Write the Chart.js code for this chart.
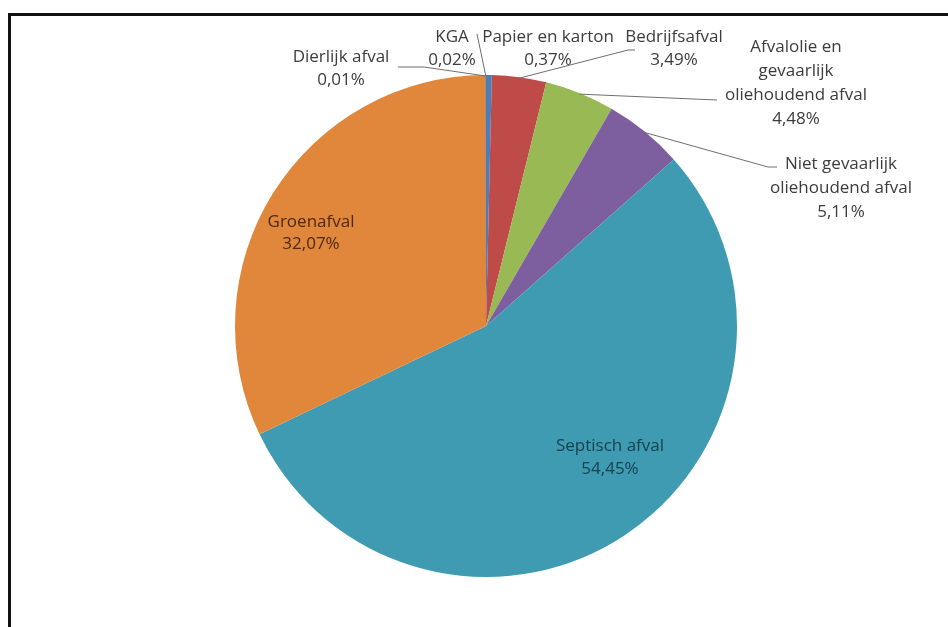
<!DOCTYPE html>
<html>
<head>
<meta charset="utf-8">
<title>Afvalstromen</title>
<script src="https://cdn.jsdelivr.net/npm/chart.js@4.4.0/dist/chart.umd.min.js"></script>
<style>
  html, body { margin: 0; padding: 0; background: #fff; overflow: hidden; }
  .frame {
    position: absolute; left: 8px; top: 13px; width: 980px; height: 660px;
    border-top: 3px solid #111; border-left: 3px solid #111;
  }
  #wasteChart { position: absolute; left: 0; top: 0; }
</style>
</head>
<body>
<div class="frame"></div>
<canvas id="wasteChart" width="948" height="627"></canvas>
<script>
// categorieen in volgorde van de taart (klok mee vanaf 12 uur)
const categories = [
  'Papier en karton',
  'Bedrijfsafval',
  'Afvalolie en gevaarlijk oliehoudend afval',
  'Niet gevaarlijk oliehoudend afval',
  'Septisch afval',
  'Groenafval',
  'Dierlijk afval',
  'KGA'
];

// aandeel per stroom in procenten
const percentages = [0.37, 3.49, 4.48, 5.11, 54.45, 32.07, 0.01, 0.02];

// regels van de labels zoals ze afgebroken worden
const labelLines = [
  ['Papier en karton'],
  ['Bedrijfsafval'],
  ['Afvalolie en', 'gevaarlijk', 'oliehoudend afval'],
  ['Niet gevaarlijk', 'oliehoudend afval'],
  ['Septisch afval'],
  ['Groenafval'],
  ['Dierlijk afval'],
  ['KGA']
];

const sliceColors = ['#4A7EBB', '#BE4B48', '#98B954', '#7D5FA0', '#3F9BB1', '#E0873C', '#2C4D75', '#772C2A'];

// plek van elk label t.o.v. het middelpunt, plus knikpunten van de lijntjes
const labelPlaces = [
  { dx: 62, dy: -289, gap: 23 },
  { dx: 188, dy: -289, gap: 23, leader: [[142, -276], [149, -276]] },
  { dx: 310, dy: -279, gap: 24, leader: [[231, -226]] },
  { dx: 355, dy: -162, gap: 24, leader: [[282, -159], [291, -159]] },
  { dx: 124, dy: 120, gap: 23, color: '#163f4f' },
  { dx: -175, dy: -104, gap: 22, color: '#4d2a0e' },
  { dx: -145, dy: -269, gap: 23, leader: [[-62, -259], [-88, -259]] },
  { dx: -34, dy: -289, gap: 23, leader: [[-9, -292]] }
];

const labelFont = '17px "Open Sans", Lato, sans-serif';

function formatPct(v) {
  return v.toFixed(2).replace('.', ',') + '%';
}

// labels en lijntjes tekenen na de taartpunten
const sliceLabels = {
  id: 'sliceLabels',
  afterDatasetsDraw(chart) {
    const ctx = chart.ctx;
    const arcs = chart.getDatasetMeta(0).data;

    ctx.save();
    ctx.font = labelFont;
    ctx.textAlign = 'center';
    ctx.textBaseline = 'middle';

    arcs.forEach(function (arc, i) {
      const place = labelPlaces[i];
      const cx = arc.x;
      const cy = arc.y;

      if (place.leader) {
        const mid = (arc.startAngle + arc.endAngle) / 2;
        const r = arc.outerRadius - 1;
        ctx.beginPath();
        ctx.moveTo(cx + Math.cos(mid) * r, cy + Math.sin(mid) * r);
        place.leader.forEach(function (p) {
          ctx.lineTo(cx + p[0], cy + p[1]);
        });
        ctx.strokeStyle = '#6f6f6f';
        ctx.lineWidth = 1;
        ctx.stroke();
      }

      const lines = labelLines[i].concat([formatPct(percentages[i])]);
      ctx.fillStyle = place.color || '#3c3c3c';
      lines.forEach(function (txt, k) {
        ctx.fillText(txt, cx + place.dx, cy + place.dy + k * place.gap);
      });
    });

    ctx.restore();
  }
};

const ctx = document.getElementById('wasteChart').getContext('2d');

const chart = new Chart(ctx, {
  type: 'pie',
  data: {
    labels: categories,
    datasets: [{
      data: percentages,
      backgroundColor: sliceColors,
      borderWidth: 0,
      hoverOffset: 0
    }]
  },
  options: {
    responsive: false,
    animation: false,
    events: [],
    layout: {
      padding: { left: 235, right: 211, top: 75, bottom: 50 }
    },
    plugins: {
      legend: { display: false },
      tooltip: { enabled: false }
    }
  },
  plugins: [sliceLabels]
});
</script>
</body>
</html>
